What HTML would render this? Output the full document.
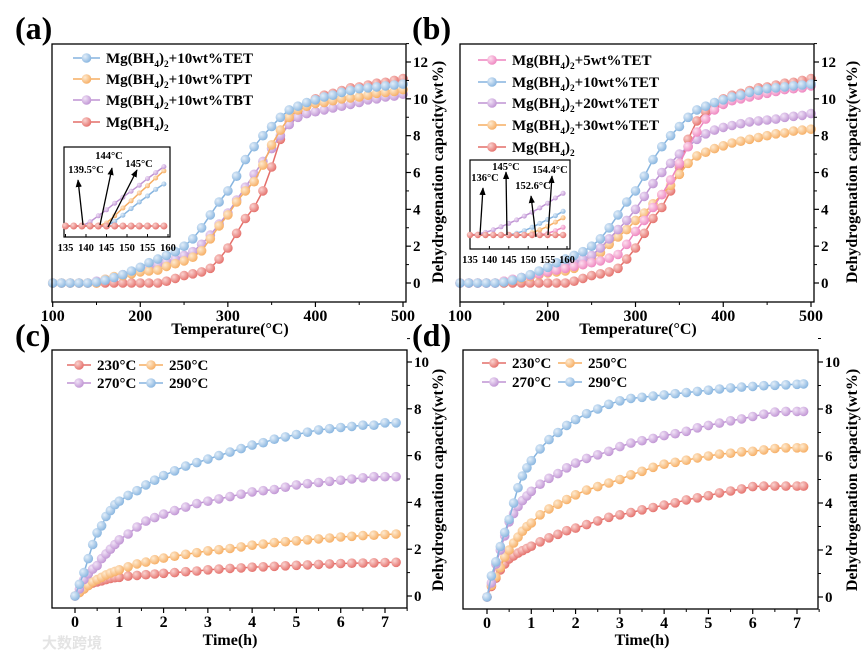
<!DOCTYPE html>
<html><head><meta charset="utf-8"><style>
html,body{margin:0;padding:0;background:#fff;}
svg{display:block;font-family:"Liberation Serif","Noto Serif CJK SC",serif;font-weight:bold;}
</style></head><body>
<svg id="chart" width="867" height="654" viewBox="0 0 867 654" xmlns="http://www.w3.org/2000/svg">
<defs>
<radialGradient id="g-blue" cx="0.35" cy="0.35" r="0.7"><stop offset="0" stop-color="#e3eef9"/><stop offset="1" stop-color="#86b4df"/></radialGradient>
<radialGradient id="g-orange" cx="0.35" cy="0.35" r="0.7"><stop offset="0" stop-color="#feead0"/><stop offset="1" stop-color="#f6ad62"/></radialGradient>
<radialGradient id="g-purple" cx="0.35" cy="0.35" r="0.7"><stop offset="0" stop-color="#f1e3f7"/><stop offset="1" stop-color="#bf93d3"/></radialGradient>
<radialGradient id="g-red" cx="0.35" cy="0.35" r="0.7"><stop offset="0" stop-color="#fad3d0"/><stop offset="1" stop-color="#e46e69"/></radialGradient>
<radialGradient id="g-pink" cx="0.35" cy="0.35" r="0.7"><stop offset="0" stop-color="#fde0ef"/><stop offset="1" stop-color="#ee84bf"/></radialGradient>
<marker id="arrow" viewBox="0 0 10 10" refX="9" refY="5" markerWidth="6" markerHeight="6" orient="auto"><path d="M0,1 L10,5 L0,9 z" fill="#000"/></marker>
</defs>
</svg>
<script>
// ---------- data ----------
const tempCategories = [100,110,120,130,140,150,160,170,180,190,200,210,220,230,240,250,260,270,280,290,300,310,320,330,340,350,360,370,380,390,400,410,420,430,440,450,460,470,480,490,500];
const aTET = [0,0,0,0,0,0.05,0.15,0.3,0.45,0.65,0.85,1.1,1.3,1.5,1.7,2.0,2.4,3.0,3.7,4.4,5.0,5.8,6.7,7.4,8.0,8.5,9.0,9.4,9.6,9.8,9.95,10.1,10.2,10.35,10.45,10.55,10.6,10.65,10.7,10.75,10.8];
const aTPT = [0,0,0,0,0,0,0.2,0.35,0.4,0.5,0.6,0.65,0.7,0.9,1.05,1.2,1.4,1.75,2.4,3.1,3.7,4.4,5.0,5.5,6.4,7.5,8.3,9.0,9.4,9.6,9.75,9.8,9.9,10.0,10.05,10.1,10.2,10.3,10.35,10.4,10.5];
const aTBT = [0,0,0,0,0,0.1,0.2,0.3,0.45,0.55,0.7,0.85,1.0,1.15,1.3,1.5,1.7,2.1,2.6,3.2,3.8,4.5,5.2,5.9,6.6,7.3,8.0,8.6,9.0,9.2,9.3,9.4,9.5,9.6,9.7,9.8,9.95,10.0,10.1,10.15,10.25];
const aPure = [0,0,0,0,0,0,0,0,0,0,0,0,0,0.1,0.25,0.4,0.5,0.6,0.8,1.3,1.9,2.7,3.5,4.1,5.0,6.3,7.8,8.8,9.3,9.65,10.0,10.2,10.3,10.45,10.6,10.65,10.75,10.85,10.9,11.0,11.1];
const b5 = [0,0,0,0,0,0.1,0.2,0.3,0.4,0.5,0.6,0.7,0.8,0.9,1.0,1.1,1.2,1.35,1.55,2.1,2.8,3.4,4.1,4.8,5.6,6.5,7.4,8.2,8.9,9.4,9.7,9.9,10.0,10.1,10.2,10.3,10.4,10.5,10.55,10.6,10.7];
const b10 = [0,0,0,0,0,0.05,0.15,0.3,0.45,0.65,0.85,1.1,1.3,1.5,1.7,2.0,2.4,3.0,3.7,4.4,5.0,5.8,6.7,7.4,8.0,8.5,9.0,9.4,9.6,9.8,9.95,10.1,10.2,10.35,10.45,10.55,10.6,10.65,10.7,10.75,10.8];
const b20 = [0,0,0,0,0,0.1,0.2,0.3,0.4,0.55,0.7,0.85,0.95,1.1,1.3,1.5,1.9,2.4,2.9,3.4,4.0,4.7,5.4,6.0,6.5,7.0,7.4,7.8,8.1,8.3,8.45,8.55,8.65,8.75,8.8,8.85,8.9,9.0,9.05,9.1,9.2];
const b30 = [0,0,0,0,0,0.05,0.15,0.25,0.35,0.45,0.55,0.6,0.65,0.8,1.0,1.3,1.65,2.1,2.5,2.9,3.4,3.8,4.3,4.8,5.3,5.9,6.5,6.9,7.1,7.3,7.45,7.6,7.7,7.8,7.9,8.0,8.1,8.15,8.25,8.3,8.35];
const bPure = [0,0,0,0,0,0,0,0,0,0,0,0,0,0.1,0.25,0.4,0.5,0.6,0.8,1.3,1.9,2.7,3.5,4.1,5.0,6.3,7.8,8.8,9.3,9.65,10.0,10.2,10.3,10.45,10.6,10.65,10.75,10.85,10.9,11.0,11.1];

const timeC = [0,0.1,0.2,0.3,0.4,0.5,0.6,0.7,0.8,0.9,1.0,1.2,1.4,1.6,1.8,2.0,2.25,2.5,2.75,3,3.25,3.5,3.75,4,4.25,4.5,4.75,5,5.25,5.5,5.75,6,6.25,6.5,6.75,7,7.25];
const c230 = [0,0.15,0.3,0.45,0.55,0.6,0.65,0.7,0.75,0.78,0.8,0.85,0.88,0.91,0.94,0.97,1.0,1.04,1.07,1.12,1.15,1.18,1.2,1.23,1.25,1.27,1.29,1.31,1.33,1.35,1.37,1.39,1.4,1.41,1.42,1.43,1.44];
const c250 = [0,0.15,0.3,0.45,0.6,0.7,0.8,0.9,0.98,1.05,1.12,1.25,1.37,1.45,1.55,1.62,1.7,1.78,1.85,1.93,1.98,2.03,2.1,2.17,2.22,2.28,2.32,2.36,2.4,2.44,2.48,2.52,2.55,2.58,2.6,2.63,2.65];
const c270 = [0,0.3,0.7,0.95,1.15,1.3,1.6,1.8,2.0,2.2,2.4,2.65,2.95,3.2,3.35,3.5,3.65,3.8,3.95,4.05,4.15,4.25,4.35,4.45,4.5,4.55,4.65,4.75,4.8,4.85,4.9,4.95,5.0,5.05,5.1,5.1,5.1];
const c290 = [0,0.5,1.0,1.6,2.2,2.7,3.0,3.4,3.65,3.9,4.05,4.3,4.5,4.75,4.95,5.15,5.35,5.55,5.7,5.85,6.0,6.15,6.3,6.45,6.55,6.7,6.8,6.9,7.0,7.1,7.15,7.2,7.25,7.3,7.3,7.4,7.4];

const timeD = [0,0.1,0.2,0.3,0.4,0.5,0.6,0.7,0.8,0.9,1.0,1.2,1.4,1.6,1.8,2.0,2.25,2.5,2.75,3,3.25,3.5,3.75,4,4.25,4.5,4.75,5,5.25,5.5,5.75,6,6.25,6.5,6.75,7,7.15];
const d230 = [0,0.45,0.8,1.15,1.4,1.62,1.75,1.87,1.97,2.07,2.16,2.35,2.52,2.67,2.82,2.93,3.08,3.24,3.39,3.5,3.59,3.71,3.81,3.91,4.01,4.13,4.22,4.31,4.43,4.51,4.6,4.7,4.72,4.72,4.72,4.72,4.72];
const d250 = [0,0.5,0.85,1.25,1.7,2.0,2.3,2.55,2.8,3.0,3.15,3.5,3.75,3.95,4.15,4.35,4.55,4.7,4.85,5.0,5.2,5.35,5.52,5.65,5.73,5.82,5.92,6.0,6.08,6.12,6.18,6.2,6.26,6.32,6.35,6.35,6.35];
const d270 = [0,0.6,1.4,2.0,2.6,3.2,3.55,3.85,4.1,4.3,4.5,4.8,5.05,5.25,5.5,5.7,5.9,6.05,6.2,6.4,6.55,6.65,6.75,6.87,6.95,7.05,7.2,7.3,7.4,7.5,7.58,7.68,7.78,7.87,7.9,7.9,7.9];
const d290 = [0,0.9,1.5,2.15,2.75,3.3,4.0,4.65,5.15,5.5,5.8,6.3,6.7,7.0,7.3,7.55,7.8,8.0,8.2,8.35,8.45,8.5,8.55,8.6,8.65,8.7,8.75,8.8,8.85,8.9,8.93,8.96,8.99,9.01,9.03,9.05,9.07];

const insetTemps = [135,137,139,141,143,145,147,149,151,153,155,157,159];
const insA_TBT = [0,0,0,0.07,0.17,0.27,0.38,0.48,0.58,0.68,0.79,0.89,0.99];
const insA_TPT = [0,0,0,0,0,0.05,0.17,0.3,0.42,0.55,0.67,0.8,0.92];
const insA_TET = [0,0,0,0,0,0,0.08,0.18,0.29,0.4,0.5,0.61,0.7];
const insA_Pure = [0,0,0,0,0,0,0,0,0,0,0,0,0];
const insB_20 = [0,0.02,0.06,0.12,0.19,0.27,0.35,0.44,0.53,0.63,0.74,0.86,0.97];
const insB_10 = [0,0,0,0,0,0,0.04,0.1,0.18,0.27,0.36,0.45,0.55];
const insB_30 = [0,0,0,0,0,0,0,0,0.05,0.12,0.2,0.3,0.4];
const insB_5 = [0,0,0,0,0,0,0,0,0,0,0.04,0.1,0.18];
const insB_Pure = [0,0,0,0,0,0,0,0,0,0,0,0,0];

const tempTicks = [100,200,300,400,500];
const timeTicks = [0,1,2,3,4,5,6,7];
const capTicksTop = [0,2,4,6,8,10,12];
const capTicksBottom = [0,2,4,6,8,10];
const insetTicks = [135,140,145,150,155,160];

const COL = {blue:'#86b4df',orange:'#f6ad62',purple:'#bf93d3',red:'#e46e69',pink:'#ee84bf'};

// ---------- helpers ----------
const svg = document.getElementById('chart');
const NS = 'http://www.w3.org/2000/svg';
function mk(tag, attrs, parent){ const e=document.createElementNS(NS,tag); for(const k in attrs) e.setAttribute(k,attrs[k]); (parent||svg).appendChild(e); return e; }
function lin(d0,d1,p0,p1){ return v => p0 + (v-d0)*(p1-p0)/(d1-d0); }
function chemText(parent, x, y, str, size){
  const t = mk('text',{x:x,y:y,'font-size':size},parent);
  const parts = str.split(/(\d)(?=\))|(?<=\))(\d)/);
  // manual: "Mg(BH4)2+..." -> Mg(BH, sub4, ), sub2, rest
  const m = str.match(/^(Mg\(BH)(4)(\))(2)(.*)$/);
  if(m){
    const a=mk('tspan',{},t); a.textContent=m[1];
    const b=mk('tspan',{dy:4,'font-size':size*0.62},t); b.textContent=m[2];
    const c=mk('tspan',{dy:-4},t); c.textContent=m[3];
    const d=mk('tspan',{dy:4,'font-size':size*0.62},t); d.textContent=m[4];
    const e=mk('tspan',{dy:-4},t); e.textContent=m[5];
  } else t.textContent=str;
  return t;
}

function drawSeries(g, xs, ys, X, Y, color, grad, r, name){
  const sg = mk('g',{},g);
  
  
  const n = Math.min(xs.length, ys.length);
  let pts=[];
  for(let i=0;i<n;i++) pts.push(X(xs[i]).toFixed(1)+','+Y(ys[i]).toFixed(1));
  const pl = mk('polyline',{points:pts.join(' '),fill:'none',stroke:color,'stroke-width':1.5},sg);
  
  
  for(let i=0;i<n;i++){
    const c = mk('circle',{cx:X(xs[i]).toFixed(1),cy:Y(ys[i]).toFixed(1),r:r,fill:'url(#'+grad+')'},sg);
    
    
  }
}

function drawPanel(p){
  const g = mk('g',{});
  
  
  const [x0,y0,x1,y1] = p.box;
  const X = lin(p.xd[0],p.xd[1],p.xp[0],p.xp[1]);
  const Y = lin(p.yd[0],p.yd[1],p.yp[0],p.yp[1]);
  // series first
  p.series.forEach(s => drawSeries(g, p.xv, s.v, X, Y, COL[s.c], 'g-'+s.c, p.r, s.name));
  // box
  const box = mk('rect',{x:x0,y:y0,width:x1-x0,height:y1-y0,fill:'none',stroke:'#000','stroke-width':1.3},g);
  
  
  // x ticks
  const xa = mk('g',{},g);
  
  
  p.xTicks.forEach((v,i)=>{
    mk('line',{x1:X(v),x2:X(v),y1:y1,y2:y1+5,stroke:'#000','stroke-width':1.2},xa);
    if(i<p.xTicks.length-1){ const m=(v+p.xTicks[i+1])/2; mk('line',{x1:X(m),x2:X(m),y1:y1,y2:y1+3,stroke:'#000','stroke-width':1},xa); }
    const t = mk('text',{x:X(v),y:y1+19,'text-anchor':'middle','font-size':16},xa);
    t.textContent = v;
    
    
  });
  if(p.extraMinor){ const v=p.extraMinor; mk('line',{x1:X(v),x2:X(v),y1:y1,y2:y1+3,stroke:'#000','stroke-width':1},xa); }
  const xt = mk('text',{x:p.xTitleX,y:p.xTitleY,'text-anchor':'middle','font-size':16},xa);
  xt.textContent = p.xTitle;
  
  
  // y ticks right
  const ya = mk('g',{},g);
  
  
  p.yTicks.forEach((v,i)=>{
    mk('line',{x1:x1,x2:x1+5,y1:Y(v),y2:Y(v),stroke:'#000','stroke-width':1.2},ya);
    const m=v+1; mk('line',{x1:x1,x2:x1+3,y1:Y(m),y2:Y(m),stroke:'#000','stroke-width':1},ya);
    const t = mk('text',{x:x1+7,y:Y(v)+5,'font-size':15},ya);
    t.textContent = v;
    
    
  });
  const yt = mk('text',{x:0,y:0,'text-anchor':'middle','font-size':16,transform:'translate('+p.yTitleX+','+p.yTitleY+') rotate(-90)'},ya);
  yt.textContent = 'Dehydrogenation capacity(wt%)';
  
  
  // panel label
  const pl = mk('text',{x:p.labX,y:p.labY,'font-size':32},g);
  pl.textContent = '('+p.id+')';
  
  
  // legend
  const lg = mk('g',{},g);
  
  
  p.legend.forEach(L=>{
    const e = mk('g',{},lg);
    
    
    mk('line',{x1:L.x,x2:L.x+L.w,y1:L.y,y2:L.y,stroke:COL[L.c],'stroke-width':1.5},e);
    mk('circle',{cx:L.x+L.w/2,cy:L.y,r:p.r,fill:'url(#g-'+L.c+')'},e);
    chemText(e, L.x+L.w+6, L.y+5, L.t, p.legSize);
  });
  return {g,X,Y};
}

// ---------- panels ----------
drawPanel({id:'a',box:[52,44,406,302],xd:[100,500],xp:[52.7,403],yd:[0,12],yp:[283,62],xv:tempCategories,r:4.8,
  series:[{v:aPure,c:'red',name:'series-mg-bh4'},{v:aTBT,c:'purple',name:'series-tbt'},{v:aTPT,c:'orange',name:'series-tpt'},{v:aTET,c:'blue',name:'series-tet'}],
  xTicks:tempTicks,yTicks:capTicksTop,xTitle:'Temperature(°C)',xTitleX:230,xTitleY:334,yTitleX:443,yTitleY:172,labX:15,labY:39,legSize:15,
  legend:[{x:73,y:58,w:27,c:'blue',t:'Mg(BH4)2+10wt%TET'},{x:73,y:79,w:27,c:'orange',t:'Mg(BH4)2+10wt%TPT'},{x:73,y:100,w:27,c:'purple',t:'Mg(BH4)2+10wt%TBT'},{x:73,y:122,w:27,c:'red',t:'Mg(BH4)2'}]});

drawPanel({id:'b',box:[460,44,814,302],xd:[100,500],xp:[460,811],yd:[0,12],yp:[283,62],xv:tempCategories,r:4.8,
  series:[{v:bPure,c:'red',name:'series-mg-bh4'},{v:b30,c:'orange',name:'series-30wt-tet'},{v:b20,c:'purple',name:'series-20wt-tet'},{v:b5,c:'pink',name:'series-5wt-tet'},{v:b10,c:'blue',name:'series-10wt-tet'}],
  xTicks:tempTicks,yTicks:capTicksTop,xTitle:'Temperature(°C)',xTitleX:638,xTitleY:334,yTitleX:857,yTitleY:172,labX:412,labY:39,legSize:15,
  legend:[{x:478,y:60,w:28,c:'pink',t:'Mg(BH4)2+5wt%TET'},{x:478,y:82,w:28,c:'blue',t:'Mg(BH4)2+10wt%TET'},{x:478,y:103,w:28,c:'purple',t:'Mg(BH4)2+20wt%TET'},{x:478,y:125,w:28,c:'orange',t:'Mg(BH4)2+30wt%TET'},{x:478,y:147,w:28,c:'red',t:'Mg(BH4)2'}]});

drawPanel({id:'c',box:[52,350,407,608],xd:[0,7],xp:[75,385],yd:[0,10],yp:[596,362],xv:timeC,r:4.8,
  series:[{v:c230,c:'red',name:'series-230c'},{v:c250,c:'orange',name:'series-250c'},{v:c270,c:'purple',name:'series-270c'},{v:c290,c:'blue',name:'series-290c'}],
  xTicks:timeTicks,extraMinor:7.5,yTicks:capTicksBottom,xTitle:'Time(h)',xTitleX:230,xTitleY:645,yTitleX:443,yTitleY:480,labX:15,labY:346,legSize:15,
  legend:[{x:67,y:365,w:24,c:'red',t:'230°C'},{x:139,y:365,w:24,c:'orange',t:'250°C'},{x:67,y:383,w:24,c:'purple',t:'270°C'},{x:139,y:383,w:24,c:'blue',t:'290°C'}]});

drawPanel({id:'d',box:[463,350,818,609],xd:[0,7],xp:[487,797],yd:[0,10],yp:[597,362],xv:timeD,r:4.8,
  series:[{v:d230,c:'red',name:'series-230c'},{v:d250,c:'orange',name:'series-250c'},{v:d270,c:'purple',name:'series-270c'},{v:d290,c:'blue',name:'series-290c'}],
  xTicks:timeTicks,extraMinor:7.5,yTicks:capTicksBottom,xTitle:'Time(h)',xTitleX:642,xTitleY:645,yTitleX:857,yTitleY:480,labX:412,labY:346,legSize:15,
  legend:[{x:482,y:363,w:24,c:'red',t:'230°C'},{x:558,y:363,w:24,c:'orange',t:'250°C'},{x:482,y:382,w:24,c:'purple',t:'270°C'},{x:558,y:382,w:24,c:'blue',t:'290°C'}]});

// ---------- insets ----------
function drawInset(id, box, xp, y0px, pxPerUnit, series, arrows){
  const g = mk('g',{});
  
  
  mk('rect',{x:box[0],y:box[1],width:box[2]-box[0],height:box[3]-box[1],fill:'#fff',stroke:'#000','stroke-width':1.2},g);
  const X = lin(135,160,xp[0],xp[1]);
  const Y = v => y0px - v*pxPerUnit;
  series.forEach(s=>drawSeries(g, insetTemps, s.v, X, Y, COL[s.c], 'g-'+s.c, s.r, 'inset-'+s.name));
  insetTicks.forEach(v=>{
    mk('line',{x1:X(v),x2:X(v),y1:box[3],y2:box[3]-3,stroke:'#000','stroke-width':1},g);
    const t = mk('text',{x:X(v),y:box[3]+14,'text-anchor':'middle','font-size':10.5},g);
    t.textContent = v;
    
    
  });
  arrows.forEach(a=>{
    const l = mk('line',{x1:a[0],y1:a[1],x2:a[2],y2:a[3],stroke:'#000','stroke-width':1.3,'marker-end':'url(#arrow)'},g);
    
    
    const t = mk('text',{x:a[5],y:a[6],'text-anchor':'middle','font-size':10.5},g);
    t.textContent = a[4];
    
    
  });
}
drawInset('a',[64,147,170,237],[65.5,168],226,60,
  [{v:insA_TET,c:'blue',r:2.5,name:'tet'},{v:insA_TPT,c:'orange',r:2.5,name:'tpt'},{v:insA_TBT,c:'purple',r:2.5,name:'tbt'},{v:insA_Pure,c:'red',r:3.5,name:'mg-bh4'}],
  [[83,225,78,180,'139.5°C',86,173],[100,225,112,168,'144°C',109,159],[108,227,137,170,'145°C',139,167]]);
drawInset('b',[470,160,570,249],[470,567],235,43,
  [{v:insB_5,c:'pink',r:2.5,name:'5wt'},{v:insB_30,c:'orange',r:2.5,name:'30wt'},{v:insB_10,c:'blue',r:2.5,name:'10wt'},{v:insB_20,c:'purple',r:2.5,name:'20wt'},{v:insB_Pure,c:'red',r:3.2,name:'mg-bh4'}],
  [[480,235,483,188,'136°C',485,181],[507,235,506,172,'145°C',506,170],[536,237,531,196,'152.6°C',533,189],[548,235,552,176,'154.4°C',550,173]]);

// watermark
const wm = mk('text',{x:42,y:648,'font-size':15,fill:'#e4e4e4','font-family':'"Noto Sans CJK SC",sans-serif'});
wm.textContent = '大数跨境';


</script>
</body></html>
